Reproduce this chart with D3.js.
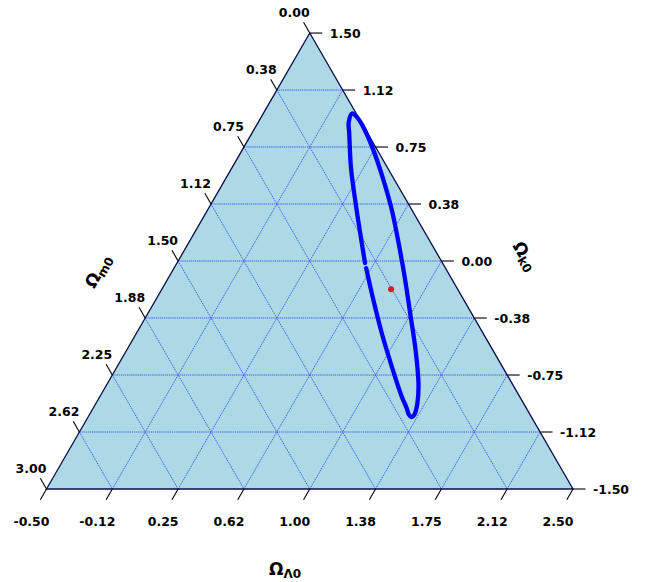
<!DOCTYPE html>
<html>
<head>
<meta charset="utf-8">
<script src="https://cdn.jsdelivr.net/npm/d3@7"></script>
<style>
  html, body { margin: 0; padding: 0; background: #fff; }
  svg { display: block; }
  text { font-family: "DejaVu Sans", sans-serif; font-weight: bold; }
</style>
</head>
<body>
<svg id="chart" width="645" height="582"></svg>
<script>
// ---------- data ----------
const lambdaTicks = [-0.5, -0.125, 0.25, 0.625, 1.0, 1.375, 1.75, 2.125, 2.5];
const lambdaLabels = ["-0.50", "-0.12", "0.25", "0.62", "1.00", "1.38", "1.75", "2.12", "2.50"];
const matterTicks = [0, 0.375, 0.75, 1.125, 1.5, 1.875, 2.25, 2.625, 3.0];
const matterLabels = ["0.00", "0.38", "0.75", "1.12", "1.50", "1.88", "2.25", "2.62", "3.00"];
const curvTicks = [1.5, 1.125, 0.75, 0.375, 0, -0.375, -0.75, -1.125, -1.5];
const curvLabels = ["1.50", "1.12", "0.75", "0.38", "0.00", "-0.38", "-0.75", "-1.12", "-1.50"];

// confidence contour (Omega_m0, Omega_Lambda0); Omega_k0 = 1 - m - L
const contourOm = [0.442, 0.371, 0.291, 0.206, 0.105, 0.072, 0.023, 0.009, 0.004, 0.023, 0.064, 0.115, 0.185, 0.262, 0.359, 0.440, 0.533, 0.604, 0.662, 0.682, 0.690, 0.682, 0.672, 0.630, 0.577, 0.516, 0.452];
const contourOl = [0.572, 0.446, 0.309, 0.175, 0.055, 0.016, 0.006, 0.039, 0.115, 0.249, 0.405, 0.551, 0.698, 0.844, 1.010, 1.146, 1.272, 1.331, 1.352, 1.345, 1.317, 1.288, 1.221, 1.066, 0.898, 0.742, 0.595];

// best-fit point
const bestOm = [0.379];
const bestOl = [0.806];

// ---------- layout ----------
const svg = d3.select("#chart");
const BLx = 46.5, BLy = 489, side = 526.5;
const triH = side * Math.sqrt(3) / 2;

// fraction scales for each ternary component
const bScale = d3.scaleLinear().domain([-0.5, 2.5]).range([0, 1]);   // Omega_Lambda
const cScale = d3.scaleLinear().domain([-1.5, 1.5]).range([0, 1]);   // Omega_k
const aScale = d3.scaleLinear().domain([0, 3]).range([0, 1]);        // Omega_m
const xPix = d3.scaleLinear().domain([0, 1]).range([BLx, BLx + side]);
const yPix = d3.scaleLinear().domain([0, 1]).range([BLy, BLy - triH]);

function proj(m, L) {
  const k = 1 - m - L;
  const b = bScale(L), c = cScale(k);
  return [xPix(b + c / 2), yPix(c)];
}
function projFrac(b, c) { return [xPix(b + c / 2), yPix(c)]; }

const TOP = projFrac(0, 1), BL = projFrac(0, 0), BR = projFrac(1, 0);

// triangle fill
svg.append("path")
  .attr("d", d3.line()([TOP, BL, BR]) + "Z")
  .attr("fill", "#add8e6");

// grid lines
const gridG = svg.append("g").attr("fill", "none");
const gridStyle = sel => sel.attr("stroke", "#2e48f5").attr("stroke-width", 0.9)
  .attr("stroke-dasharray", "1.3,0.8").attr("opacity", 0.95);
for (let i = 1; i < 8; i++) {
  // constant Omega_k (horizontal)
  const c = cScale(curvTicks[i]);
  gridG.append("path").attr("d", d3.line()([projFrac(0, c), projFrac(1 - c, c)])).call(gridStyle);
  // constant Omega_Lambda
  const b = bScale(lambdaTicks[i]);
  gridG.append("path").attr("d", d3.line()([projFrac(b, 0), projFrac(b, 1 - b)])).call(gridStyle);
  // constant Omega_m
  const a = aScale(matterTicks[i]);
  gridG.append("path").attr("d", d3.line()([projFrac(0, 1 - a), projFrac(1 - a, 0)])).call(gridStyle);
}

// triangle border
svg.append("path")
  .attr("d", d3.line()([TOP, BL, BR]) + "Z")
  .attr("fill", "none").attr("stroke", "#0b0b4a").attr("stroke-width", 1.3);

// ---------- ticks & labels ----------
const tickG = svg.append("g").attr("stroke", "#000").attr("stroke-width", 1.1);
const labG = svg.append("g").attr("font-size", "12.5px").attr("fill", "#000");

// left axis: Omega_m (top -> bottom-left)
matterTicks.forEach((v, i) => {
  const a = aScale(v);
  const p = projFrac(0, 1 - a);
  tickG.append("line").attr("x1", p[0]).attr("y1", p[1]).attr("x2", p[0] - 6.2).attr("y2", p[1] - 10.8);
  labG.append("text").attr("x", p[0] - 15.5).attr("y", p[1] - 21 + 4.5)
    .attr("text-anchor", "middle").text(matterLabels[i]);
});
// right axis: Omega_k (top -> bottom-right)
curvTicks.forEach((v, i) => {
  const c = cScale(v);
  const p = projFrac(1 - c, c);
  tickG.append("line").attr("x1", p[0]).attr("y1", p[1]).attr("x2", p[0] + 12.5).attr("y2", p[1]);
  labG.append("text").attr("x", p[0] + 20).attr("y", p[1] + 4.5)
    .attr("text-anchor", "start").text(curvLabels[i]);
});
// bottom axis: Omega_Lambda
lambdaTicks.forEach((v, i) => {
  const b = bScale(v);
  const p = projFrac(b, 0);
  tickG.append("line").attr("x1", p[0]).attr("y1", p[1]).attr("x2", p[0] - 6.2).attr("y2", p[1] + 10.8);
  labG.append("text").attr("x", p[0] - 15).attr("y", p[1] + 32 + 4.5)
    .attr("text-anchor", "middle").text(lambdaLabels[i]);
});

// axis titles
function axisTitle(x, y, rot, sub) {
  const t = svg.append("text")
    .attr("transform", `translate(${x},${y}) rotate(${rot})`)
    .attr("text-anchor", "middle").attr("font-size", "17px").attr("fill", "#000");
  t.append("tspan").text("Ω");
  t.append("tspan").attr("font-size", "12px").attr("dy", 3).text(sub);
}
axisTitle(103, 274, -60, "m0");
axisTitle(520, 259, 60, "k0");
axisTitle(285, 575, 0, "Λ0");

// ---------- contour ----------
const pts = contourOm.map((m, i) => proj(m, contourOl[i]));
svg.append("path")
  .attr("d", d3.line().curve(d3.curveCatmullRom.alpha(0.5))(pts))
  .attr("fill", "none").attr("stroke", "#0000ff").attr("stroke-width", 4.3)
  .attr("stroke-linecap", "round").attr("stroke-linejoin", "round");

// best-fit point
bestOm.forEach((m, i) => {
  const p = proj(m, bestOl[i]);
  svg.append("circle").attr("cx", p[0]).attr("cy", p[1]).attr("r", 3).attr("fill", "#e8141a");
});
</script>
</body>
</html>
